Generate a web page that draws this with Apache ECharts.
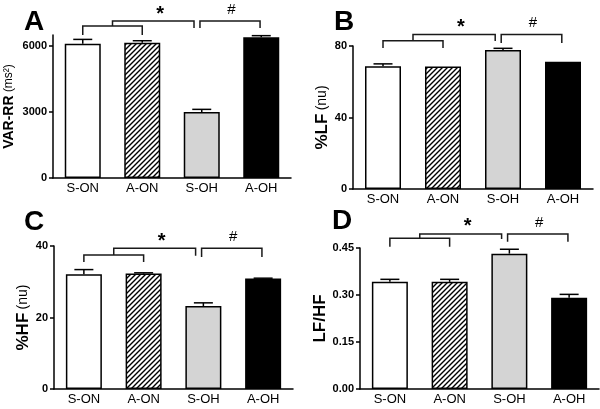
<!DOCTYPE html>
<html>
<head>
<meta charset="utf-8">
<script src="https://cdn.jsdelivr.net/npm/echarts@6/dist/echarts.min.js"></script>
<style>
html,body{margin:0;padding:0;background:#fff;}
#chart{width:600px;height:409px;}
</style>
</head>
<body>
<div id="chart"></div>
<script>
// ---- data ----
const categories = ['S-ON', 'A-ON', 'S-OH', 'A-OH'];
const varRRMean = [6100, 6150, 3000, 6400];
const varRRSem  = [200, 90, 120, 70];
const lfMean    = [68.7, 68.5, 77.7, 71.2];
const lfSem     = [1.3, 0, 1.0, 0];
const hfMean    = [32.1, 32.3, 23.2, 30.9];
const hfSem     = [1.3, 0.2, 0.9, 0.1];
const ratioMean = [0.342, 0.342, 0.432, 0.291];
const ratioSem  = [0.008, 0.008, 0.014, 0.011];
const ticksA = [0, 3000, 6000];
const ticksB = [0, 40, 80];
const ticksC = [0, 20, 40];
const ticksD = [0, 0.15, 0.30, 0.45];

// ---- styling helpers ----
const FONT = '"Liberation Sans", Arial, Helvetica, sans-serif';

function hatch() {
  const s = 5;
  const c = document.createElement('canvas');
  c.width = s; c.height = s;
  const g = c.getContext('2d');
  g.fillStyle = '#fff'; g.fillRect(0, 0, s, s);
  g.strokeStyle = '#000'; g.lineWidth = 1.4;
  g.beginPath();
  g.moveTo(-1, s + 1); g.lineTo(s + 1, -1);
  g.moveTo(-1, 1); g.lineTo(1, -1);
  g.moveTo(s - 1, s + 1); g.lineTo(s + 1, s - 1);
  g.stroke();
  return c;
}
const fills = ['#ffffff', { image: hatch(), repeat: 'repeat' }, '#d4d4d4', '#000000'];

const panels = [
  { letter: 'A', lx: 34, ly: 22, grid: { left: 53, top: 35, width: 238, height: 143 },
    max: 6500, ticks: ticksA, mean: varRRMean, sem: varRRSem, dec: 0,
    name: '{b|VAR-RR} {n|(ms²)}', bSize: 14, nSize: 12, gap: 37,
    br: { L: 6909, Ld: 6500, M: 7136, Md: 6818, H: 7136, Hd: 6818, s: 7427, h: 7636 } },
  { letter: 'B', lx: 344, ly: 22, grid: { left: 353, top: 46, width: 240, height: 143 },
    max: 80, ticks: ticksB, mean: lfMean, sem: lfSem, dec: 0,
    name: '{b|%LF} {n|(nu)}', bSize: 17, nSize: 14, gap: 21,
    br: { L: 82.97, Ld: 78.9, M: 86.5, Md: 82.8, H: 86.5, Hd: 81.7, s: 90.3, h: 92.9 } },
  { letter: 'C', lx: 34, ly: 222, grid: { left: 54, top: 246, width: 239, height: 143 },
    max: 40, ticks: ticksC, mean: hfMean, sem: hfSem, dec: 0,
    name: '{b|%HF} {n|(nu)}', bSize: 17, nSize: 14, gap: 21,
    br: { L: 37.5, Ld: 35.5, M: 39.4, Md: 37.3, H: 39.4, Hd: 36.9, s: 41.2, h: 42.5 } },
  { letter: 'D', lx: 342, ly: 221, grid: { left: 360, top: 248, width: 239, height: 141 },
    max: 0.45, ticks: ticksD, mean: ratioMean, sem: ratioSem, dec: 2,
    name: '{b|LF/HF}', bSize: 17, nSize: 14, gap: 28,
    br: { L: 0.481, Ld: 0.454, M: 0.4947, Md: 0.4787, H: 0.4947, Hd: 0.470, s: 0.519, h: 0.530 } }
];

const option = {
  animation: false,
  backgroundColor: '#ffffff',
  grid: [], xAxis: [], yAxis: [], series: [],
  graphic: []
};

panels.forEach((p, k) => {
  option.grid.push(Object.assign({ containLabel: false }, p.grid));
  option.xAxis.push({
    type: 'category', gridIndex: k, data: categories,
    axisLine: { show: true, onZero: false, lineStyle: { color: '#000', width: 1.5 } },
    axisTick: { show: false },
    axisLabel: { color: '#000', fontSize: 13, fontFamily: FONT, margin: 4 }
  });
  option.xAxis.push({ type: 'value', gridIndex: k, min: -0.5, max: 3.5, show: false });
  option.yAxis.push({
    type: 'value', gridIndex: k, min: 0, max: p.max,
    splitLine: { show: false },
    axisLine: { show: true, onZero: false, lineStyle: { color: '#000', width: 1.5 } },
    axisTick: { show: true, length: 4, lineStyle: { color: '#000', width: 1.5 }, customValues: p.ticks },
    axisLabel: { color: '#000', fontSize: 11, fontWeight: 'bold', fontFamily: FONT, margin: 6,
                 customValues: p.ticks, formatter: v => Number(v).toFixed(p.dec) },
    name: p.name, nameLocation: 'middle', nameRotate: 90, nameGap: p.gap,
    nameTextStyle: { fontFamily: FONT, color: '#000',
      rich: { b: { fontSize: p.bSize, fontWeight: 'bold', fontFamily: FONT, color: '#000' },
              n: { fontSize: p.nSize, fontFamily: FONT, color: '#000' } } }
  });
  const xi = 2 * k;
  option.series.push({
    type: 'bar', xAxisIndex: xi, yAxisIndex: k, barWidth: 36, z: 2,
    data: p.mean.map((v, i) => ({ value: v, itemStyle: { color: fills[i], borderColor: '#000', borderWidth: 1.5 } }))
  });
  option.series.push({
    type: 'custom', xAxisIndex: xi + 1, yAxisIndex: k, z: 3,
    data: p.mean.map((v, i) => [i, v, p.sem[i]]),
    renderItem: (params, api) => {
      const i = api.value(0), m = api.value(1), e = api.value(2);
      if (!e) return null;
      const b = api.coord([i, m]), t = api.coord([i, m + e]);
      return { type: 'group', children: [
        { type: 'line', shape: { x1: b[0], y1: b[1], x2: t[0], y2: t[1] }, style: { stroke: '#000', lineWidth: 1.5 } },
        { type: 'line', shape: { x1: t[0] - 9.5, y1: t[1], x2: t[0] + 9.5, y2: t[1] }, style: { stroke: '#000', lineWidth: 1.5 } }
      ] };
    }
  });
  const br = p.br;
  option.series.push({
    type: 'custom', xAxisIndex: xi + 1, yAxisIndex: k, z: 4,
    data: [[1, 1]],
    renderItem: (params, api) => {
      const P = (x, y) => api.coord([x, y]);
      const ls = { stroke: '#1a1a1a', lineWidth: 1.5, fill: null };
      const pl = pts => ({ type: 'polyline', shape: { points: pts }, style: ls });
      const s = P(1.3, br.s), h = P(2.5, br.h);
      return { type: 'group', children: [
        pl([P(0, br.Ld), P(0, br.L), P(1, br.L), P(1, br.Ld)]),
        pl([P(0.5, br.L), P(0.5, br.M), P(1.87, br.M), P(1.87, br.Md)]),
        pl([P(1.97, br.Hd), P(1.97, br.H), P(2.98, br.H), P(2.98, br.Hd)]),
        { type: 'text', x: s[0], y: s[1], style: { text: '*', font: 'bold 20px ' + FONT, fill: '#000', align: 'center', verticalAlign: 'middle' } },
        { type: 'text', x: h[0], y: h[1], style: { text: '#', font: '15px ' + FONT, fill: '#000', align: 'center', verticalAlign: 'middle' } }
      ] };
    }
  });
  option.graphic.push({
    type: 'text', x: p.lx, y: p.ly,
    style: { text: p.letter, font: 'bold 28px ' + FONT, fill: '#000', align: 'center', verticalAlign: 'middle' }
  });
});

const chart = echarts.init(document.getElementById('chart'), null, { renderer: 'canvas' });
chart.setOption(option);
</script>
</body>
</html>
